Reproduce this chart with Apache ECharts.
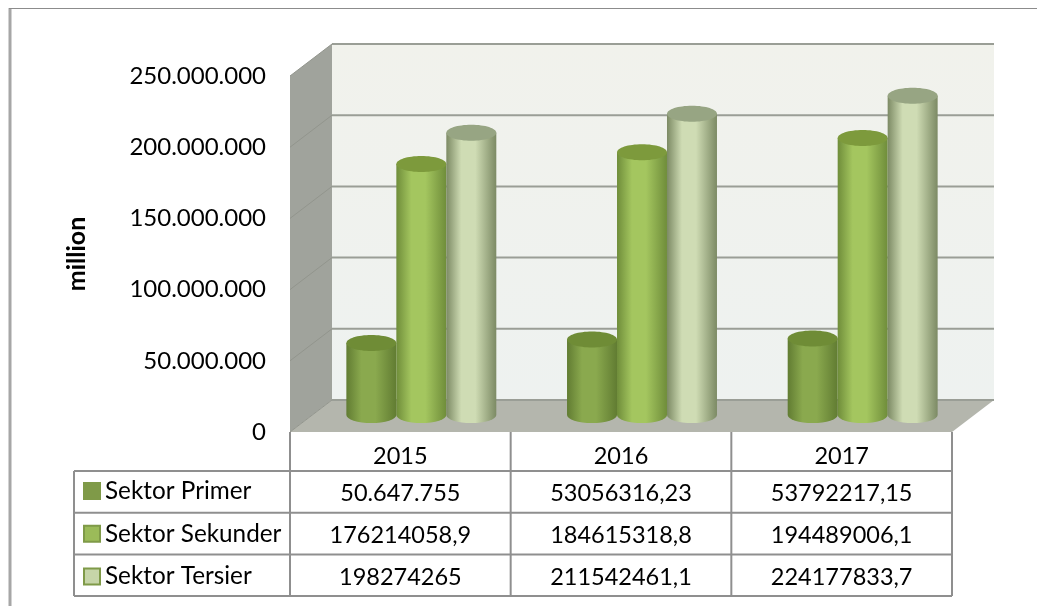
<!DOCTYPE html>
<html>
<head>
<meta charset="utf-8">
<style>
  html, body { margin: 0; background: #fff; }
  #chart { width: 1037px; height: 606px; }
</style>
<script src="https://cdn.jsdelivr.net/npm/echarts@6/dist/echarts.min.js"></script>
</head>
<body>
<div id="chart"></div>
<script>
const years = ['2015', '2016', '2017'];
const sectorNames = ['Sektor Primer', 'Sektor Sekunder', 'Sektor Tersier'];
const primer = [50647755, 53056316.23, 53792217.15];
const sekunder = [176214058.9, 184615318.8, 194489006.1];
const tersier = [198274265, 211542461.1, 224177833.7];
// table cells are written as they are printed in the picture
const primerCells = ['50.647.755', '53056316,23', '53792217,15'];
const sekunderCells = ['176214058,9', '184615318,8', '194489006,1'];
const tersierCells = ['198274265', '211542461,1', '224177833,7'];
const axisTicks = [0, 50000000, 100000000, 150000000, 200000000, 250000000];

const FONT = 'Lato';
// the fake 3d box: how far the back wall sits from the front plane
const DEPTH_X = 42;
const DEPTH_Y = -32;
const GRID_LINE = '#9a9e96';

// one set of colours per sector: side shading, top cap, legend key
const looks = [
  { edge: '#617c32', mid: '#8aa94e', cap: '#6f8c36', key: '#7f9a48' },
  { edge: '#6f8d3a', mid: '#a4c65f', cap: '#7d9a3c', key: '#9bbb59' },
  { edge: '#7c8a64', mid: '#cfdcb4', cap: '#97a583', key: '#c6d5a8' }
];

function cylinderItem(sectorIndex) {
  return function (params, api) {
    const look = looks[sectorIndex];
    const slot = api.size([1, 0])[0];
    const w = slot * 0.2265;
    const top = api.coord([api.value(0), api.value(1)]);
    const bottom = api.coord([api.value(0), 0]);
    // bars stand halfway into the box
    const cx = top[0] + DEPTH_X / 2 + (sectorIndex - 1) * w;
    const yTop = top[1] + DEPTH_Y * 0.53;
    const yBottom = bottom[1] + DEPTH_Y * 0.53;
    const rx = w / 2;
    const ry = 8;
    const side = new echarts.graphic.LinearGradient(0, 0, 1, 0, [
      { offset: 0, color: look.edge },
      { offset: 0.3, color: look.mid },
      { offset: 0.58, color: look.mid },
      { offset: 1, color: look.edge }
    ]);
    return {
      type: 'group',
      children: [
        {
          type: 'path',
          shape: {
            pathData: 'M' + (cx - rx) + ' ' + yTop +
              'L' + (cx - rx) + ' ' + yBottom +
              'A' + rx + ' ' + ry + ' 0 0 0 ' + (cx + rx) + ' ' + yBottom +
              'L' + (cx + rx) + ' ' + yTop + 'Z',
            layout: 'center'
          },
          style: { fill: side },
          silent: true
        },
        {
          type: 'ellipse',
          shape: { cx: cx, cy: yTop, rx: rx, ry: ry },
          style: { fill: look.cap },
          silent: true
        }
      ]
    };
  };
}

function boxItem(params, api) {
  const cs = params.coordSys;
  const left = cs.x;
  const right = cs.x + cs.width;
  const top = cs.y;
  const bottom = cs.y + cs.height;
  const poly = function (pts, fill) {
    return { type: 'polygon', shape: { points: pts }, style: { fill: fill }, silent: true };
  };
  const children = [
    poly([[left + DEPTH_X, top + DEPTH_Y], [right + DEPTH_X, top + DEPTH_Y], [right + DEPTH_X, bottom + DEPTH_Y], [left + DEPTH_X, bottom + DEPTH_Y]],
      new echarts.graphic.LinearGradient(0, 0, 0, 1, [
        { offset: 0, color: '#f1f2ec' },
        { offset: 1, color: '#eef2f0' }
      ])),
    poly([[left, top], [left + DEPTH_X, top + DEPTH_Y], [left + DEPTH_X, bottom + DEPTH_Y], [left, bottom]], '#a0a39c'),
    poly([[left, bottom], [left + DEPTH_X, bottom + DEPTH_Y], [right + DEPTH_X, bottom + DEPTH_Y], [right, bottom]], '#b4b6ad')
  ];
  axisTicks.forEach(function (t) {
    const y = api.coord([0, t])[1];
    children.push({
      type: 'line',
      shape: { x1: left + DEPTH_X, y1: y + DEPTH_Y, x2: right + DEPTH_X, y2: y + DEPTH_Y },
      style: { stroke: GRID_LINE, lineWidth: 2 },
      silent: true
    });
    children.push({
      type: 'line',
      shape: { x1: left, y1: y, x2: left + DEPTH_X, y2: y + DEPTH_Y },
      style: { stroke: '#92958d', lineWidth: 1 },
      silent: true
    });
  });
  return { type: 'group', children: children };
}

function tableItem(params, api) {
  const cs = params.coordSys;
  const left = cs.x;
  const right = cs.x + cs.width;
  const bottom = cs.y + cs.height;
  const rowsTop = bottom + 39;
  const rowH = 41.7;
  const keyLeft = 74;
  const stroke = { stroke: '#8f8f8f', lineWidth: 2 };
  const children = [];
  const hLine = function (x1, y, x2) {
    children.push({ type: 'line', shape: { x1: x1, y1: y, x2: x2, y2: y }, style: stroke, silent: true });
  };
  const vLine = function (x, y1, y2) {
    children.push({ type: 'line', shape: { x1: x, y1: y1, x2: x, y2: y2 }, style: stroke, silent: true });
  };
  const cellText = function (text, x, y) {
    children.push({
      type: 'text',
      x: x,
      y: y,
      style: { text: text, font: '23.5px ' + FONT, fill: '#000', align: 'center', verticalAlign: 'middle' },
      silent: true
    });
  };
  for (let r = 0; r <= 3; r++) hLine(keyLeft, rowsTop + r * rowH, right);
  vLine(keyLeft, rowsTop, rowsTop + 3 * rowH);
  for (let c = 0; c <= years.length; c++) {
    const x = left + c * cs.width / years.length;
    vLine(x, bottom, rowsTop + 3 * rowH);
  }
  years.forEach(function (year, i) {
    const x = api.coord([i, 0])[0];
    cellText(year, x, bottom + 24);
    cellText(primerCells[i], x, rowsTop + rowH * 0.5 + 2);
    cellText(sekunderCells[i], x, rowsTop + rowH * 1.5 + 2);
    cellText(tersierCells[i], x, rowsTop + rowH * 2.5 + 2);
  });
  return { type: 'group', children: children };
}

function sectorSeries(index, values) {
  return {
    name: sectorNames[index],
    type: 'custom',
    coordinateSystem: 'cartesian2d',
    clip: false,
    z: 5 + index,
    itemStyle: { color: looks[index].key, borderColor: '#7f9a48', borderWidth: 1 },
    renderItem: cylinderItem(index),
    encode: { x: 0, y: 1 },
    data: values.map(function (v, i) { return [i, v]; })
  };
}

const chart = echarts.init(document.getElementById('chart'));
chart.setOption({
  backgroundColor: '#ffffff',
  animation: false,
  textStyle: { fontFamily: FONT },
  graphic: [
    {
      type: 'line',
      shape: { x1: 10, y1: 8, x2: 10, y2: 606 },
      style: { stroke: '#a6a6a6', lineWidth: 3 },
      silent: true
    },
    {
      type: 'line',
      shape: { x1: 9, y1: 8.5, x2: 1037, y2: 8.5 },
      style: { stroke: '#8c8c8c', lineWidth: 1 },
      silent: true
    }
  ],
  legend: {
    left: 83,
    top: 479,
    padding: 0,
    orient: 'vertical',
    itemWidth: 16,
    itemHeight: 16,
    itemGap: 18.7,
    selectedMode: false,
    icon: 'rect',
    textStyle: { fontFamily: FONT, fontSize: 24.3, color: '#000' },
    data: sectorNames
  },
  grid: { left: 290, top: 76, width: 662, height: 356 },
  xAxis: {
    type: 'category',
    data: years,
    axisLine: { show: false },
    axisTick: { show: false },
    axisLabel: { show: false }
  },
  yAxis: {
    type: 'value',
    min: 0,
    max: 250000000,
    interval: 50000000,
    name: 'million',
    nameLocation: 'middle',
    nameGap: 201,
    nameTextStyle: { fontFamily: FONT, fontSize: 25, fontWeight: 'bold', color: '#000' },
    axisLine: { show: false },
    axisTick: { show: false },
    splitLine: { show: false },
    axisLabel: {
      margin: 24,
      padding: [6, 0, 0, 0],
      fontFamily: FONT,
      fontSize: 24,
      color: '#000',
      formatter: function (v) { return String(v).replace(/\B(?=(\d{3})+$)/g, '.'); }
    }
  },
  series: [
    {
      type: 'custom',
      coordinateSystem: 'cartesian2d',
      clip: false,
      silent: true,
      z: 1,
      renderItem: boxItem,
      data: [[0, 0]]
    },
    {
      type: 'custom',
      coordinateSystem: 'cartesian2d',
      clip: false,
      silent: true,
      z: 2,
      renderItem: tableItem,
      data: [[0, 0]]
    },
    sectorSeries(0, primer),
    sectorSeries(1, sekunder),
    sectorSeries(2, tersier)
  ]
});
</script>
</body>
</html>
